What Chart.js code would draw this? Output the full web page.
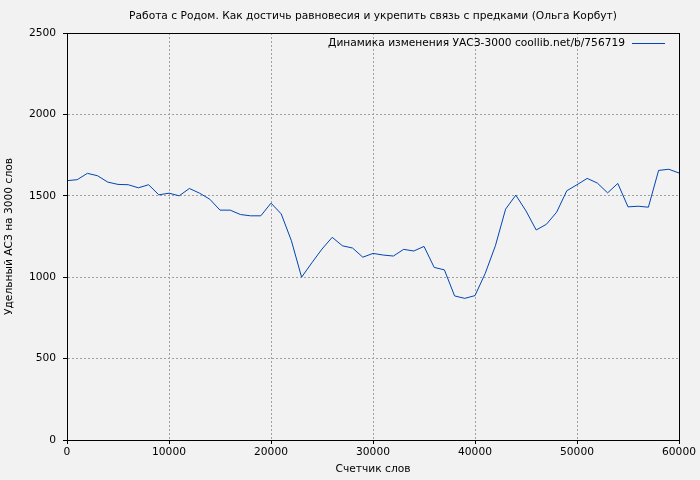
<!DOCTYPE html>
<html>
<head>
<meta charset="utf-8">
<script src="https://cdn.jsdelivr.net/npm/chart.js@4"></script>
<style>
html,body{margin:0;padding:0;background:#f2f2f2;}
#wrap{width:700px;height:480px;position:relative;}
canvas{display:block;}
</style>
</head>
<body>
<div id="wrap"><canvas id="c" width="700" height="480"></canvas></div>
<script>
const chartTitle = 'Работа с Родом. Как достичь равновесия и укрепить связь с предками (Ольга Корбут)';
const seriesLabel = 'Динамика изменения УАСЗ-3000 coollib.net/b/756719';
const xTitle = 'Счетчик слов';
const yTitle = 'Удельный АСЗ на 3000 слов';
const wordCounts = [0,1000,2000,3000,4000,5000,6000,7000,8000,9000,10000,11000,12000,13000,14000,15000,16000,17000,18000,19000,20000,21000,22000,23000,24000,25000,26000,27000,28000,29000,30000,31000,32000,33000,34000,35000,36000,37000,38000,39000,40000,41000,42000,43000,44000,45000,46000,47000,48000,49000,50000,51000,52000,53000,54000,55000,56000,57000,58000,59000,60000];
const values = [1593,1599,1638,1623,1584,1570,1568,1549,1568,1506,1516,1500,1545,1516,1479,1412,1412,1385,1377,1377,1455,1389,1224,1000,1088,1173,1245,1193,1179,1123,1146,1136,1130,1171,1161,1189,1060,1045,885,870,887,1023,1193,1418,1504,1407,1290,1325,1399,1531,1568,1607,1578,1518,1576,1432,1436,1430,1656,1663,1640];
const xTicks = [0,10000,20000,30000,40000,50000,60000];
const yTicks = [0,500,1000,1500,2000,2500];

const FONT = 'DejaVu Sans';
const FSIZE = 10.67;
const lineColor = '#0046b4';

const points = wordCounts.map((x,i)=>({x:x,y:values[i]}));

const framePlugin = {
  id:'frame',
  beforeDraw(chart){
    const ctx = chart.ctx;
    ctx.save();
    ctx.fillStyle = '#f2f2f2';
    ctx.fillRect(0,0,chart.width,chart.height);
    ctx.restore();
  },
  afterDraw(chart){
    const {ctx, chartArea:a} = chart;
    ctx.save();
    ctx.strokeStyle = '#000';
    ctx.lineWidth = 1;
    ctx.strokeRect(Math.round(a.left)+0.5, Math.round(a.top)+0.5, Math.round(a.right-a.left), Math.round(a.bottom-a.top));
    ctx.fillStyle = '#000';
    ctx.font = FSIZE + 'px "' + FONT + '"';
    ctx.textAlign = 'center';
    ctx.textBaseline = 'middle';
    ctx.fillText(chartTitle, (a.left+a.right)/2, 16);
    ctx.textAlign = 'right';
    const ly = a.top + 10;
    ctx.fillText(chart.data.datasets[0].label, a.right - 54, ly);
    ctx.strokeStyle = lineColor;
    ctx.beginPath();
    ctx.moveTo(a.right - 47, ly + 0.5);
    ctx.lineTo(a.right - 14, ly + 0.5);
    ctx.stroke();
    ctx.restore();
  }
};

new Chart(document.getElementById('c'), {
  type:'line',
  data:{datasets:[{label:seriesLabel,data:points,borderColor:lineColor,borderWidth:1,pointRadius:0,fill:false,tension:0}]},
  options:{
    responsive:false,
    animation:false,
    devicePixelRatio:1,
    layout:{padding:{top:33,right:21,left:0,bottom:0}},
    plugins:{legend:{display:false},title:{display:false},tooltip:{enabled:false}},
    scales:{
      x:{
        type:'linear',min:0,max:60000,
        afterFit(s){s.height=40;},
        afterBuildTicks(s){s.ticks = xTicks.map(v=>({value:v}));},
        ticks:{color:'#000',font:{family:FONT,size:FSIZE},padding:2,maxRotation:0,autoSkip:false,callback:v=>String(v)},
        grid:{color:'#a0a0a0',lineWidth:1,tickLength:4,tickColor:'#000',tickBorderDash:[]},
        border:{display:true,color:'#000',width:1,dash:[2,2]},
        title:{display:true,text:xTitle,color:'#000',font:{family:FONT,size:FSIZE},padding:{top:0,bottom:4}}
      },
      y:{
        min:0,max:2500,
        afterFit(s){s.width=67;},
        afterBuildTicks(s){s.ticks = yTicks.map(v=>({value:v}));},
        ticks:{color:'#000',font:{family:FONT,size:FSIZE},padding:7,autoSkip:false,callback:v=>String(v)},
        grid:{color:'#a0a0a0',lineWidth:1,tickLength:4,tickColor:'#000',tickBorderDash:[]},
        border:{display:true,color:'#000',width:1,dash:[2,2]},
        title:{display:true,text:yTitle,color:'#000',font:{family:FONT,size:FSIZE},padding:{top:3,bottom:0}}
      }
    }
  },
  plugins:[framePlugin]
});
</script>
</body>
</html>
